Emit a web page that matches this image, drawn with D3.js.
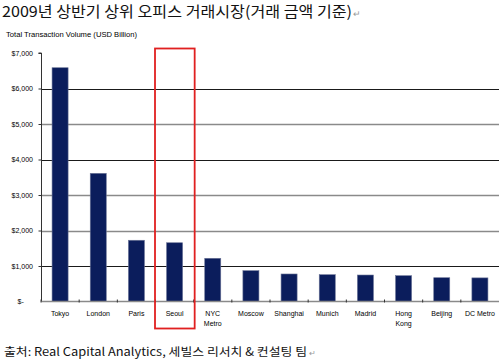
<!DOCTYPE html>
<html><head><meta charset="utf-8">
<script src="https://cdn.jsdelivr.net/npm/d3@7"></script>
<style>body{margin:0;background:#fff}svg{display:block}</style>
</head><body>
<script>
const categories = ["Tokyo","London","Paris","Seoul","NYC\nMetro","Moscow","Shanghai","Munich","Madrid","Hong\nKong","Beijing","DC Metro"];
const values = [6585,3610,1725,1655,1217,868,775,755,746,727,670,665];
const yTicks = [0,1000,2000,3000,4000,5000,6000,7000];
const highlight = "Seoul";
const titleText = "2009년 상반기 상위 오피스 거래시장(거래 금액 기준)";
const axisTitle = "Total Transaction Volume (USD Billion)";
const sourceText = "출처: Real Capital Analytics, 세빌스 리서치 & 컨설팅 팀";

(function(){
const W=500,H=361;
const svg=d3.select("body").append("svg").attr("width",W).attr("height",H);
const mLeft=41,mRight=499,mTop=53,mBottom=301.5;
const x=d3.scaleBand().domain(categories).range([mLeft,mRight]).paddingInner(0.58).paddingOuter(0.29);
const y=d3.scaleLinear().domain([0,7000]).range([mBottom,mTop]);
const latin="Arial, 'Liberation Sans', sans-serif";
const kr="'Noto Sans CJK KR', sans-serif";

// title
svg.append("text").attr("x",2).attr("y",17).attr("font-family",kr).attr("font-size",15)
  .attr("textLength",350).attr("lengthAdjust","spacingAndGlyphs").attr("fill","#111").text(titleText);
svg.append("text").attr("x",353).attr("y",17).attr("font-family",latin).attr("font-size",9).attr("fill","#999").text("↵");

svg.append("text").attr("x",6).attr("y",37).attr("font-family",latin).attr("font-size",7.5)
  .attr("textLength",131).attr("lengthAdjust","spacingAndGlyphs").attr("fill","#000").text(axisTitle);

// gridlines
const dark=new Set([1000,4000,6000]);
svg.append("g").selectAll("line").data(yTicks.filter(d=>d>0&&d<7000)).join("line")
  .attr("x1",mLeft).attr("x2",mRight).attr("y1",d=>Math.round(y(d))+0.5).attr("y2",d=>Math.round(y(d))+0.5)
  .attr("stroke",d=>dark.has(d)?"#1a1a1a":"#8a8a8a").attr("stroke-width",d=>dark.has(d)?1:1.5);

// y axis
const yAxis=d3.axisLeft(y).tickValues(yTicks).tickSize(3).tickFormat(d=>d===0?"$-":"$"+d3.format(",")(d));
const ga=svg.append("g").attr("transform",`translate(${mLeft+0.5},0)`).call(yAxis);
ga.select(".domain").attr("stroke","#333").attr("d",`M-3,${y(7000)}H0V${mBottom}`);
ga.selectAll(".tick line").attr("stroke","#333");
ga.selectAll(".tick text").attr("font-family",latin).attr("font-size",7).attr("fill","#000").attr("x",-8.5).attr("dy","0.35em");
ga.selectAll(".tick").filter(d=>d===0).select("text").attr("text-anchor","start").attr("x",-24);
ga.selectAll(".tick").filter(d=>d===0).select("line").remove();

// bars
svg.append("g").selectAll("rect").data(values).join("rect")
  .attr("x",(d,i)=>x(categories[i])).attr("width",x.bandwidth())
  .attr("y",d=>y(d)).attr("height",d=>mBottom-y(d))
  .attr("fill","#0b1d5c").attr("stroke","#6a7396").attr("stroke-width",0.6);

// baseline
svg.append("line").attr("x1",mLeft).attr("x2",mRight).attr("y1",mBottom).attr("y2",mBottom).attr("stroke","#8a8a8a").attr("stroke-width",1.5);
// category ticks
const gap=(x.step()-x.bandwidth())/2;
svg.append("g").selectAll("line").data(categories).join("line")
  .attr("x1",d=>x(d)-gap).attr("x2",d=>x(d)-gap).attr("y1",mBottom-2).attr("y2",mBottom+1)
  .attr("stroke","#333").attr("stroke-width",1);

// x labels
const xl=svg.append("g").selectAll("text").data(categories).join("text")
  .attr("x",d=>x(d)+x.bandwidth()/2).attr("y",316).attr("text-anchor","middle")
  .attr("font-family",latin).attr("font-size",7).attr("fill","#000");
xl.each(function(d){
  const parts=d.split("\n");
  d3.select(this).selectAll("tspan").data(parts).join("tspan")
    .attr("x",x(d)+x.bandwidth()/2).attr("dy",(p,i)=>i===0?0:10).text(p=>p);
});

// highlight box
svg.append("rect").attr("x",x(highlight)-gap-0.5).attr("y",48.5).attr("width",x.step()+1.5).attr("height",280)
  .attr("fill","none").attr("stroke","#e02020").attr("stroke-width",1.8);

// source
svg.append("text").attr("x",4).attr("y",356).attr("font-family",kr).attr("font-size",11.5)
  .attr("textLength",303).attr("lengthAdjust","spacingAndGlyphs").attr("fill","#111").text(sourceText);
svg.append("text").attr("x",309).attr("y",356).attr("font-family",latin).attr("font-size",8).attr("fill","#999").text("↵");
})();
</script>
</body></html>
